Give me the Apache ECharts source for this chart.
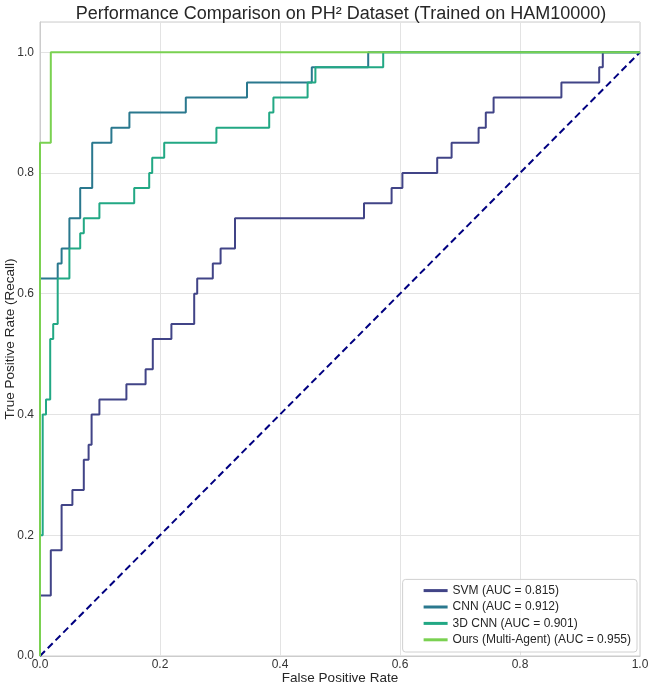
<!DOCTYPE html>
<html>
<head>
<meta charset="utf-8">
<script src="https://cdn.jsdelivr.net/npm/echarts@6/dist/echarts.min.js"></script>
<style>
  html, body { margin: 0; padding: 0; background: #fff; }
  #roc { width: 657px; height: 686px; }
</style>
</head>
<body>
<div id="roc"></div>
<script>
// ROC points (fpr, tpr)
var svmFpr = [0, 0, 0.018, 0.036, 0.054, 0.073, 0.081, 0.086, 0.099, 0.144, 0.176, 0.188, 0.219, 0.257, 0.262, 0.288, 0.301, 0.325, 0.540, 0.586, 0.604, 0.662, 0.686, 0.731, 0.743, 0.756, 0.869, 0.932, 0.938, 1];
var svmTpr = [0, 0.1, 0.175, 0.25, 0.275, 0.325, 0.35, 0.4, 0.425, 0.45, 0.475, 0.525, 0.55, 0.6, 0.625, 0.65, 0.675, 0.725, 0.75, 0.775, 0.8, 0.825, 0.85, 0.875, 0.9, 0.925, 0.95, 0.975, 1, 1];

var cnnFpr = [0, 0, 0.0295, 0.036, 0.049, 0.067, 0.087, 0.119, 0.149, 0.243, 0.345, 0.453, 0.547, 1];
var cnnTpr = [0, 0.625, 0.65, 0.675, 0.725, 0.775, 0.85, 0.875, 0.9, 0.925, 0.95, 0.975, 1, 1];

var cnn3dFpr = [0, 0, 0.0045, 0.01, 0.017, 0.022, 0.0295, 0.049, 0.067, 0.073, 0.099, 0.157, 0.182, 0.187, 0.207, 0.294, 0.382, 0.389, 0.446, 0.459, 0.572, 1];
var cnn3dTpr = [0, 0.2, 0.4, 0.425, 0.525, 0.55, 0.625, 0.675, 0.7, 0.725, 0.75, 0.775, 0.8, 0.825, 0.85, 0.875, 0.9, 0.925, 0.95, 0.975, 1, 1];

var oursFpr = [0, 0, 0.018, 1];
var oursTpr = [0, 0.85, 1, 1];

var chanceLine = [0, 1];

var modelNames = ['SVM (AUC = 0.815)', 'CNN (AUC = 0.912)', '3D CNN (AUC = 0.901)', 'Ours (Multi-Agent) (AUC = 0.955)'];
var modelColors = ['#414487', '#2a788e', '#22a884', '#7ad151'];

function zip(xs, ys) {
  return xs.map(function (x, i) { return [x, ys[i]]; });
}

var curves = [zip(svmFpr, svmTpr), zip(cnnFpr, cnnTpr), zip(cnn3dFpr, cnn3dTpr), zip(oursFpr, oursTpr)];

var fontFam = '"Liberation Sans", Arial, sans-serif';

var series = curves.map(function (pts, i) {
  return {
    name: modelNames[i],
    type: 'line',
    step: 'end',
    data: pts,
    symbol: 'none',
    lineStyle: { color: modelColors[i], width: 2 },
    itemStyle: { color: modelColors[i] },
    silent: true,
    z: 3 + i
  };
});

series.push({
  name: 'chance',
  type: 'line',
  data: zip(chanceLine, chanceLine),
  symbol: 'none',
  lineStyle: { color: '#000080', width: 2, type: [7, 4] },
  silent: true,
  z: 2
});

function tickFmt(v) {
  return Math.abs(v * 5 - Math.round(v * 5)) < 1e-6 ? v.toFixed(1) : '';
}

var chart = echarts.init(document.getElementById('roc'));
chart.setOption({
  animation: false,
  backgroundColor: '#fff',
  title: {
    text: 'Performance Comparison on PH² Dataset (Trained on HAM10000)',
    left: 336,
    textAlign: 'center',
    top: 0,
    textStyle: { fontFamily: fontFam, fontSize: 18, fontWeight: 'normal', color: '#262626' }
  },
  legend: {
    data: modelNames,
    orient: 'vertical',
    right: 20,
    bottom: 34,
    icon: 'rect',
    itemWidth: 24,
    itemHeight: 3,
    itemGap: 2,
    padding: [4, 6, 5, 21],
    backgroundColor: 'rgba(255,255,255,0.8)',
    borderColor: '#d0d0d0',
    borderWidth: 1,
    borderRadius: 3,
    textStyle: { fontFamily: fontFam, fontSize: 12, color: '#262626', lineHeight: 14.4 }
  },
  grid: {
    left: 40,
    right: 17,
    top: 22,
    bottom: 30,
    outerBoundsMode: 'none',
    containLabel: false,
    show: true,
    borderColor: '#cccccc',
    borderWidth: 1
  },
  xAxis: {
    type: 'value',
    min: 0,
    max: 1,
    interval: 0.2,
    name: 'False Positive Rate',
    nameLocation: 'middle',
    nameGap: 15,
    nameMoveOverlap: false,
    nameTextStyle: { fontFamily: fontFam, fontSize: 13.5, color: '#262626' },
    axisLine: { show: true, lineStyle: { color: '#cccccc' } },
    axisTick: { show: false },
    axisLabel: { formatter: tickFmt, fontFamily: fontFam, fontSize: 12, color: '#333', margin: 3 },
    splitLine: { show: true, lineStyle: { color: '#e3e3e3', width: 1 } }
  },
  yAxis: {
    type: 'value',
    min: 0,
    max: 1.05,
    interval: 0.2,
    name: 'True Positive Rate (Recall)',
    nameLocation: 'middle',
    nameGap: 23,
    nameMoveOverlap: false,
    nameTextStyle: { fontFamily: fontFam, fontSize: 13.5, color: '#262626' },
    axisLine: { show: true, lineStyle: { color: '#cccccc' } },
    axisTick: { show: false },
    axisLabel: { formatter: tickFmt, fontFamily: fontFam, fontSize: 12, color: '#333', margin: 6 },
    splitLine: { show: true, lineStyle: { color: '#e3e3e3', width: 1 } }
  },
  series: series
});
</script>
</body>
</html>
